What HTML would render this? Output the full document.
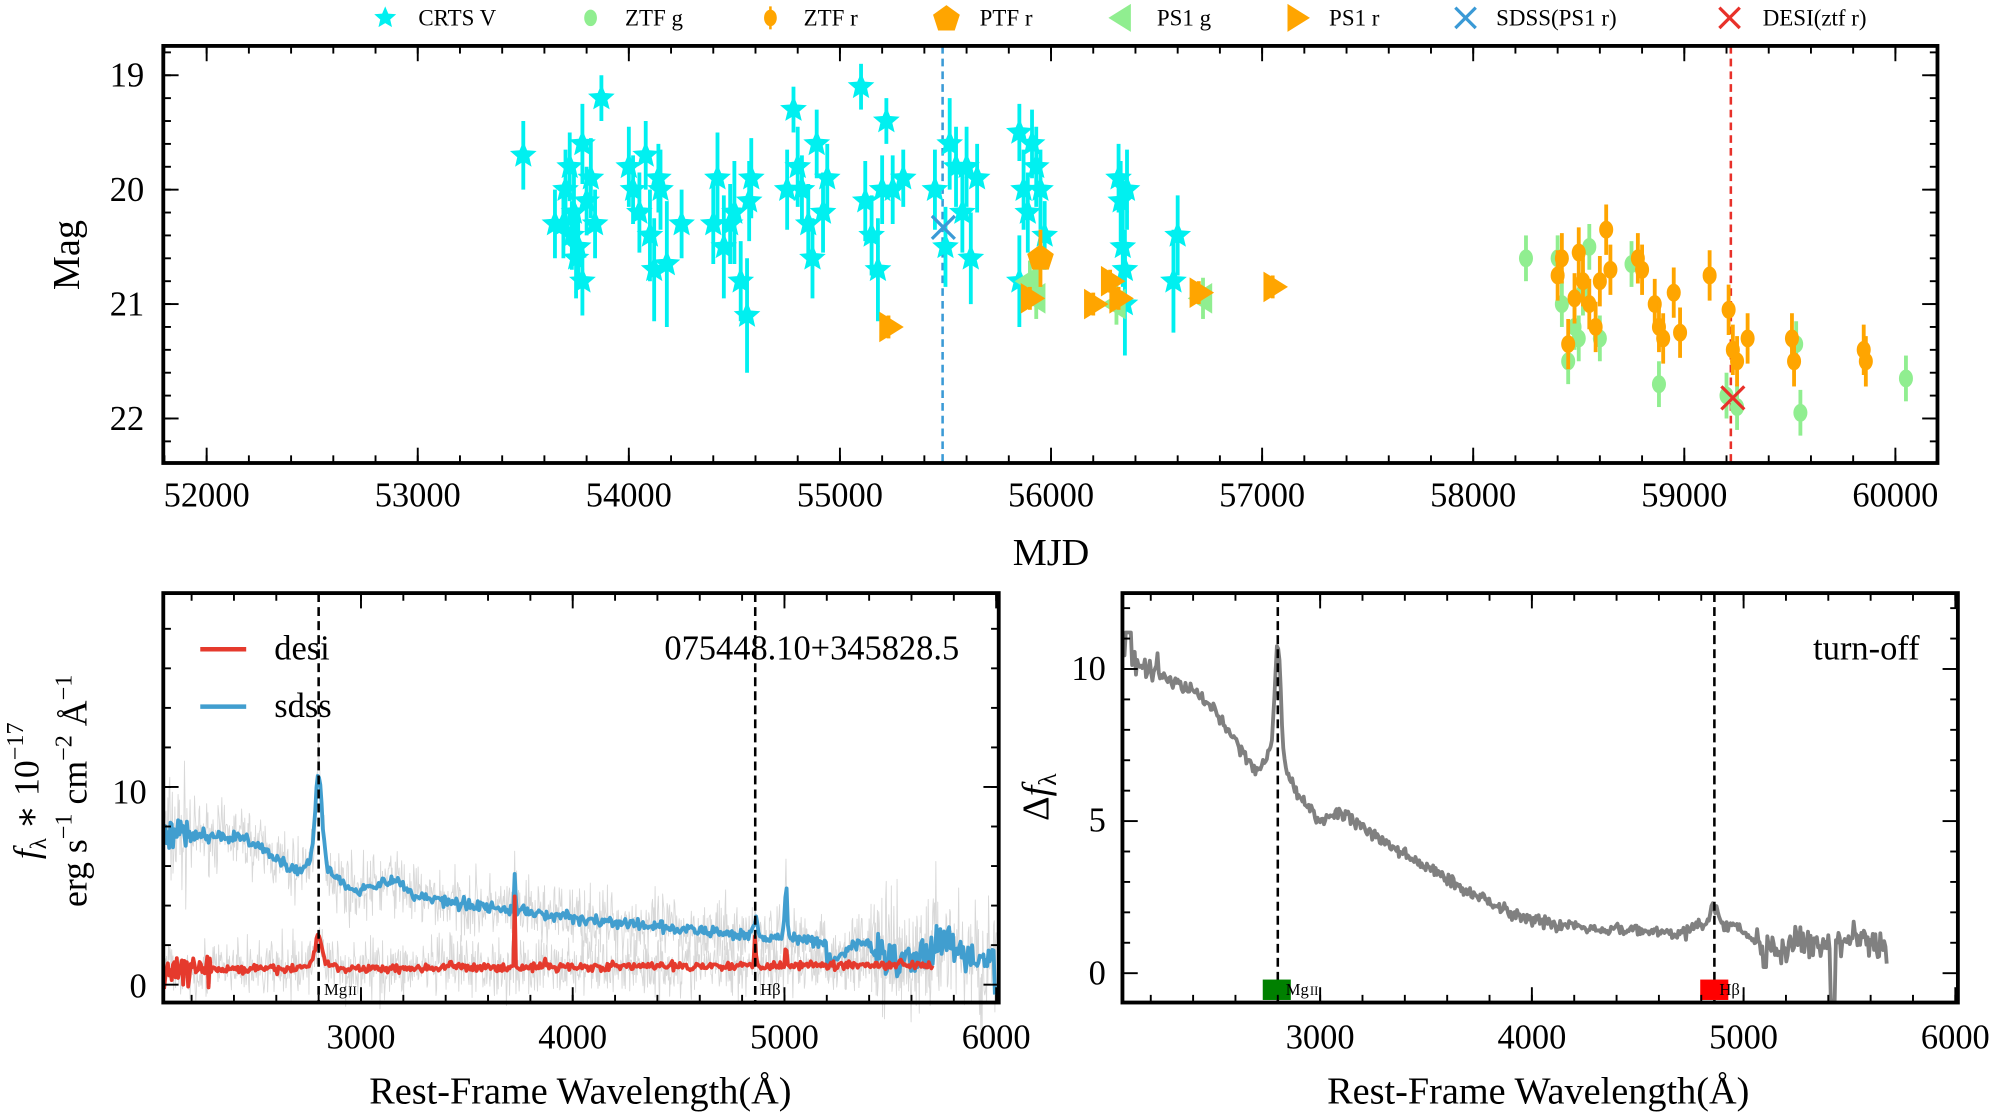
<!DOCTYPE html>
<html><head><meta charset="utf-8"><style>
html,body{margin:0;padding:0;background:#fff;}
svg{display:block;}
svg text{font-family:"Liberation Serif","DejaVu Serif",serif;fill:#000;}
</style></head><body>
<svg id="s" xmlns="http://www.w3.org/2000/svg" width="2000" height="1114" viewBox="0 0 1568 873.4" font-family="Liberation Serif, DejaVu Serif, serif">
<rect width="1568" height="874" fill="#fff"/>
<g id="g"></g>
</svg>
<script>
var NS="http://www.w3.org/2000/svg",G=document.getElementById('g');
function el(t,a,p){var e=document.createElementNS(NS,t);for(var k in a)e.setAttribute(k,a[k]);(p||G).appendChild(e);return e;}
function tx(x,y,s,sz,anc,extra){var a={x:x,y:y,'font-size':sz,'text-anchor':anc||'middle','font-family':'Liberation Serif, DejaVu Serif, serif'};for(var k in extra)a[k]=extra[k];var e=el('text',a);e.textContent=s;return e;}
var seed=7;function rnd(){seed=(seed*16807)%2147483647;return seed/2147483647;}
function gn(){return (rnd()+rnd()+rnd()-1.5)*1.15;}

// ---------- TOP PANEL ----------
var T={x0:128,x1:1519,y0:36,y1:363};
function mx(m){return 162+(m-52000)*0.1655;}
function my(v){return 59+(v-19)*89.7;}
el('line',{x1:739,y1:T.y0,x2:739,y2:T.y1,stroke:'#3a9ad6','stroke-width':2,'stroke-dasharray':'6,4'});
el('line',{x1:1357,y1:T.y0,x2:1357,y2:T.y1,stroke:'#e8312a','stroke-width':2,'stroke-dasharray':'6,4'});
function star(cx,cy,r,fill){var p=[];for(var i=0;i<10;i++){var a=-Math.PI/2+i*Math.PI/5,rr=i%2?r*0.45:r;p.push((cx+rr*Math.cos(a)).toFixed(1)+','+(cy+rr*Math.sin(a)).toFixed(1));}el('polygon',{points:p.join(' '),fill:fill});}
function ebar(x,y1,y2,c,w){el('line',{x1:x,y1:y1,x2:x,y2:y2,stroke:c,'stroke-width':w||3});}
var crts=[[53500,19.7,.3],[53650,20.3,.3],[53700,20.0,.35],[53720,19.8,.3],[53740,20.2,.35],[53760,20.5,.3],[53780,19.6,.35],[53800,20.1,.3],[53820,19.9,.35],[53840,20.3,.3],[53870,19.2,.2],[53750,20.6,.35],[53730,20.4,.3],[53690,20.3,.3],[54000,19.8,.35],[54020,20.0,.3],[54050,20.2,.35],[54080,19.7,.3],[54100,20.4,.4],[54120,20.7,.45],[54150,20.0,.35],[54180,20.65,.55],[54140,19.9,.3],[54400,20.3,.35],[54420,19.9,.4],[54450,20.5,.45],[54480,20.3,.35],[54500,20.2,.45],[54530,20.8,.35],[54560,21.1,.5],[54580,19.9,.35],[54570,20.1,.35],[54750,20.0,.35],[54780,19.3,.2],[54800,19.8,.35],[54820,20.0,.3],[54850,20.3,.35],[54870,20.6,.35],[54890,19.6,.3],[54920,20.2,.35],[54940,19.9,.3],[55100,19.1,.2],[55120,20.1,.35],[55150,20.4,.35],[55180,20.7,.45],[55200,20.0,.3],[55220,19.4,.2],[55250,20.0,.3],[55300,19.9,.25],[55450,20.0,.35],[55500,20.5,.35],[55520,19.6,.4],[55550,19.8,.35],[55580,20.2,.35],[55600,19.8,.35],[55620,20.6,.4],[55650,19.9,.3],[55850,19.5,.25],[55870,20.0,.35],[55890,20.2,.35],[55910,19.6,.3],[55930,19.8,.35],[55950,20.0,.35],[55970,20.4,.3],[55850,20.8,.4],[56320,19.9,.3],[56330,20.1,.35],[56340,20.5,.35],[56350,20.7,.35],[56360,20.0,.35],[56350,21.0,.45],[56600,20.4,.35],[56580,20.8,.45],[54250,20.3,.3],[53780,20.8,.3]];
crts.forEach(function(d){ebar(mx(d[0]),my(d[1]-d[2]),my(d[1]+d[2]),'#00f0f0');});
crts.forEach(function(d){star(mx(d[0]),my(d[1]),11,'#00f0f0');});
var ztfg=[[58250,20.6],[58400,20.6],[58420,21.0],[58450,21.5],[58480,21.2],[58550,20.5],[58600,21.3],[58750,20.65],[58880,21.7],[59200,21.8],[59250,21.9],[59530,21.35],[59550,21.95],[60050,21.65],[58520,20.9],[58500,21.3]];
ztfg.forEach(function(d){ebar(mx(d[0]),my(d[1]-.2),my(d[1]+.2),'#90ee90');el('ellipse',{cx:mx(d[0]),cy:my(d[1]),rx:5.5,ry:7,fill:'#90ee90'});});
var ztfr=[[58400,20.75],[58420,20.6],[58450,21.35],[58480,20.95],[58500,20.55],[58520,20.8],[58550,21.0],[58580,21.2],[58600,20.8],[58630,20.35],[58650,20.7],[58780,20.6],[58800,20.7],[58860,21.0],[58880,21.2],[58900,21.3],[58950,20.9],[58980,21.25],[59120,20.75],[59210,21.05],[59230,21.4],[59250,21.5],[59300,21.3],[59510,21.3],[59520,21.5],[59850,21.4],[59860,21.5]];
ztfr.forEach(function(d){ebar(mx(d[0]),my(d[1]-.22),my(d[1]+.22),'#ffa500');el('ellipse',{cx:mx(d[0]),cy:my(d[1]),rx:5.5,ry:7,fill:'#ffa500'});});
function tri(cx,cy,dir,c,r){var p=dir>0?[[cx+r,cy],[cx-r*0.6,cy-r],[cx-r*0.6,cy+r]]:[[cx-r,cy],[cx+r*0.6,cy-r],[cx+r*0.6,cy+r]];el('polygon',{points:p.map(function(q){return q.join(',');}).join(' '),fill:c});}
[[55900,20.8],[56310,21.0],[56720,20.95],[55930,20.95]].forEach(function(d){ebar(mx(d[0]),my(d[1]-.18),my(d[1]+.18),'#90ee90');tri(mx(d[0]),my(d[1]),-1,'#90ee90',12);});
[[55230,21.2],[55900,20.95],[56200,21.0],[56280,20.8],[56320,20.95],[56700,20.9],[57050,20.85]].forEach(function(d){ebar(mx(d[0]),my(d[1]-.1),my(d[1]+.1),'#ffa500');tri(mx(d[0]),my(d[1]),1,'#ffa500',12);});
(function(){var cx=mx(55950),cy=my(20.6),p=[];ebar(cx,my(20.35),my(20.85),'#ffa500');for(var i=0;i<5;i++){var a=-Math.PI/2+i*2*Math.PI/5;p.push((cx+11*Math.cos(a)).toFixed(1)+','+(cy+11*Math.sin(a)).toFixed(1));}el('polygon',{points:p.join(' '),fill:'#ffa500'});})();
function cross(cx,cy,c,r){el('path',{d:'M'+(cx-r)+','+(cy-r)+'L'+(cx+r)+','+(cy+r)+'M'+(cx-r)+','+(cy+r)+'L'+(cx+r)+','+(cy-r),stroke:c,'stroke-width':2.5,fill:'none'});}
cross(mx(55490),my(20.33),'#3a9ad6',9);cross(mx(59230),my(21.82),'#e8312a',9);

function frame(B){el('rect',{x:B.x0,y:B.y0,width:B.x1-B.x0,height:B.y1-B.y0,fill:'none',stroke:'#000','stroke-width':3});}
function xt(B,pos,len){pos.forEach(function(x){el('line',{x1:x,y1:B.y1,x2:x,y2:B.y1-len,stroke:'#000','stroke-width':1.5});el('line',{x1:x,y1:B.y0,x2:x,y2:B.y0+len,stroke:'#000','stroke-width':1.5});});}
function yt(B,pos,len){pos.forEach(function(y){el('line',{x1:B.x0,y1:y,x2:B.x0+len,y2:y,stroke:'#000','stroke-width':1.5});el('line',{x1:B.x1,y1:y,x2:B.x1-len,y2:y,stroke:'#000','stroke-width':1.5});});}
frame(T);
var a=[],b=[];for(var m=52000;m<=60000;m+=1000){a.push(mx(m));tx(mx(m),397,m,27);}
for(var m=51800;m<=60200;m+=200){var x=mx(m);if(x>T.x0&&x<T.x1)b.push(x);}
xt(T,a,12);xt(T,b,6);
a=[];b=[];for(var v=19;v<=22;v++){a.push(my(v));tx(113,my(v)+9,v,27,'end');}
for(var v=18.8;v<=22.41;v+=0.2){var y=my(v);if(y>T.y0&&y<T.y1)b.push(y);}
yt(T,a,12);yt(T,b,6);
tx(824,443,'MJD',30);
tx(62,200,'Mag',30,'middle',{transform:'rotate(-90 62 200)'});
(function(){var Y=14;star(302,Y,9,'#00f0f0');tx(328,Y+6,'CRTS V',18,'start');
el('ellipse',{cx:463,cy:Y,rx:5,ry:6.5,fill:'#90ee90'});tx(490,Y+6,'ZTF g',18,'start');
el('ellipse',{cx:604,cy:Y,rx:5,ry:6.5,fill:'#ffa500'});ebar(604,Y-9,Y+9,'#ffa500',2);tx(630,Y+6,'ZTF r',18,'start');
var p=[];for(var i=0;i<5;i++){var ang=-Math.PI/2+i*2*Math.PI/5;p.push((742+11*Math.cos(ang)).toFixed(1)+','+(Y+1+11*Math.sin(ang)).toFixed(1));}el('polygon',{points:p.join(' '),fill:'#ffa500'});tx(768,Y+6,'PTF r',18,'start');
tri(880,Y,-1,'#90ee90',11);tx(907,Y+6,'PS1 g',18,'start');
tri(1016,Y,1,'#ffa500',11);tx(1042,Y+6,'PS1 r',18,'start');
cross(1149,Y,'#3a9ad6',8);tx(1173,Y+6,'SDSS(PS1 r)',18,'start');
cross(1356,Y,'#e8312a',8);tx(1382,Y+6,'DESI(ztf r)',18,'start');})();

// ---------- BOTTOM LEFT ----------
var L={x0:128,x1:783,y0:465,y1:786};
function lx(w){return 283+(w-3000)*0.166;}
function ly(f){return 772-f*15.5;}
function g(w,c,s){return Math.exp(-0.5*Math.pow((w-c)/s,2));}
function sd(w){var c;
 if(w<2650)c=7.6-(w-2100)*0.0004-Math.max(0,w-2450)*0.007;
 else if(w<3000)c=5.8-(w-2650)*0.003;
 else c=4.75*Math.exp(-(w-3000)/2500)+0.2;
 if(w>5200)c=1.6+0.5*Math.sin(w/60);
 c+=4.3*g(w,2800,16)+0.9*g(w,2800,60)+0.8*g(w,4861,12)+2.6*g(w,5007,6)+0.6*g(w,3150,50)+1.7*g(w,3727,3);
 return c;}
function de(w){return 0.75+(w-2100)*0.00008+1.3*g(w,2800,15)+0.4*g(w,2800,40)+4*g(w,3727,2)+1.5*g(w,4861,4)+1.2*g(w,5007,3)+0.5*g(w,3869,3)+0.5*g(w,3426,3);}
function poly(pts,c,w,op){el('polyline',{points:pts.join(' '),fill:'none',stroke:c,'stroke-width':w,'stroke-linejoin':'round',opacity:op||1});}
var gs=[],gd=[],ps=[],pd=[];
for(var w=2070;w<=6000;w+=3){var ns=(w<2200||w>5400)?2.8:1.4;gs.push(lx(w).toFixed(1)+','+ly(sd(w)+gn()*ns).toFixed(1));}
for(var w=2070;w<=5700;w+=3){gd.push(lx(w).toFixed(1)+','+ly(de(w)+gn()*1.3).toFixed(1));}
poly(gs,'#d8d8d8',0.7);poly(gd,'#d8d8d8',0.7);
for(var w=2070;w<=5995;w+=6){var n=(w<2200||w>5400)?0.8:0.25;var v=sd(w)+gn()*n;if(w>5990)v=-0.5;ps.push(lx(w).toFixed(1)+','+ly(v).toFixed(1));}
for(var w=2070;w<=5700;w+=6){var n=w<2300?0.6:0.18;pd.push(lx(w).toFixed(1)+','+ly(de(w)+gn()*n).toFixed(1));}
poly(ps,'#419ecf',3);poly(pd,'#e53a2d',3);
el('line',{x1:lx(2800),y1:L.y0,x2:lx(2800),y2:L.y1,stroke:'#000','stroke-width':2,'stroke-dasharray':'7,4'});
el('line',{x1:lx(4862),y1:L.y0,x2:lx(4862),y2:L.y1,stroke:'#000','stroke-width':2,'stroke-dasharray':'7,4'});
frame(L);
a=[];b=[];[3000,4000,5000,6000].forEach(function(w){a.push(lx(w));tx(lx(w),822,w,27);});
for(var w=2200;w<=6000;w+=200)if(lx(w)>L.x0)b.push(lx(w));
xt(L,a,12);xt(L,b,6);
a=[ly(0),ly(10)];b=[];for(var f=2;f<=18;f+=2)b.push(ly(f));
yt(L,a,12);yt(L,b,6);
tx(115,782,'0',27,'end');tx(115,630,'10',27,'end');
tx(254,780,'Mg',13,'start');tx(273,780,'II',10,'start');
tx(596,780,'Hβ',13,'start');
el('line',{x1:157,y1:509,x2:193,y2:509,stroke:'#e53a2d','stroke-width':3.5});tx(215,517,'desi',27,'start');
el('line',{x1:157,y1:554,x2:193,y2:554,stroke:'#419ecf','stroke-width':3.5});tx(215,562,'sdss',27,'start');
tx(752,517,'075448.10+345828.5',27,'end');
tx(455,865,'Rest-Frame Wavelength(Å)',30);
(function(){var e=tx(30,620,'',28,'middle',{transform:'rotate(-90 30 620)'});e.innerHTML='<tspan font-style="italic">f</tspan><tspan font-size="18" dy="6">λ</tspan><tspan dy="-6"> ∗ 10</tspan><tspan font-size="19" dy="-12">−17</tspan>';
var e2=tx(68,620,'',28,'middle',{transform:'rotate(-90 68 620)'});e2.innerHTML='erg s<tspan font-size="19" dy="-12">−1</tspan><tspan dy="12"> cm</tspan><tspan font-size="19" dy="-12">−2</tspan><tspan dy="12"> Å</tspan><tspan font-size="19" dy="-12">−1</tspan>';})();

// ---------- BOTTOM RIGHT ----------
var R={x0:880,x1:1535,y0:465,y1:786};
function rx(w){return 1035+(w-3000)*0.166;}
function ry(f){return 763-f*23.85;}
var kn=[[2070,10.6],[2150,10.2],[2300,9.6],[2400,9.3],[2500,8.6],[2600,7.6],[2700,6.6],[2760,6.9],[3000,5.0],[3100,5.3],[3200,4.8],[3300,4.3],[3500,3.5],[3700,2.7],[3900,2.0],[4100,1.6],[4300,1.5],[4500,1.4],[4700,1.3],[4800,1.6],[4950,1.6],[5050,1.1],[5150,0.7],[5250,1.0],[5350,0.9],[5500,1.2],[5600,1.1],[5680,0.6]];
function interp(w){for(var i=0;i<kn.length-1;i++)if(w<=kn[i+1][0]){var t=(w-kn[i][0])/(kn[i+1][0]-kn[i][0]);return kn[i][1]+t*(kn[i+1][1]-kn[i][1]);}return kn[kn.length-1][1];}
var pr=[];
for(var w=2070;w<=5680;w+=6){var v=interp(w)+3.6*g(w,2800,14)+0.6*g(w,2800,40)+0.6*g(w,4861,15)+gn()*(w<2250?0.45:(w>5050?0.4:0.18));
 if(Math.abs(w-5420)<12)v=-0.9;if(Math.abs(w-5100)<8)v=0.2;if(w>2080&&w<2110)v=11.2;
 pr.push(rx(w).toFixed(1)+','+ry(v).toFixed(1));}
poly(pr,'#808080',3);
el('line',{x1:rx(2800),y1:R.y0,x2:rx(2800),y2:R.y1,stroke:'#000','stroke-width':2,'stroke-dasharray':'7,4'});
el('line',{x1:rx(4862),y1:R.y0,x2:rx(4862),y2:R.y1,stroke:'#000','stroke-width':2,'stroke-dasharray':'7,4'});
el('rect',{x:990,y:768,width:22,height:16,fill:'#008000'});
el('rect',{x:1333,y:768,width:22,height:16,fill:'#ff0000'});
tx(1008,780,'Mg',13,'start');tx(1027,780,'II',10,'start');
tx(1348,780,'Hβ',13,'start');
frame(R);
a=[];b=[];[3000,4000,5000,6000].forEach(function(w){a.push(rx(w));tx(rx(w),822,w,27);});
for(var w=2200;w<=6000;w+=200)if(rx(w)>R.x0&&rx(w)<R.x1)b.push(rx(w));
xt(R,a,12);xt(R,b,6);
a=[ry(0),ry(5),ry(10)];b=[];for(var f=-3;f<=13;f++)if(f%5&&ry(f)>R.y0&&ry(f)<R.y1)b.push(ry(f));
yt(R,a,12);yt(R,b,6);
tx(867,772,'0',27,'end');tx(867,652,'5',27,'end');tx(867,533,'10',27,'end');
tx(1505,517,'turn-off',27,'end');
tx(1206,865,'Rest-Frame Wavelength(Å)',30);
(function(){var e=tx(822,625,'',30,'middle',{transform:'rotate(-90 822 625)'});e.innerHTML='Δ<tspan font-style="italic">f</tspan><tspan font-size="20" dy="6">λ</tspan>';})();
</script>
</body></html>
